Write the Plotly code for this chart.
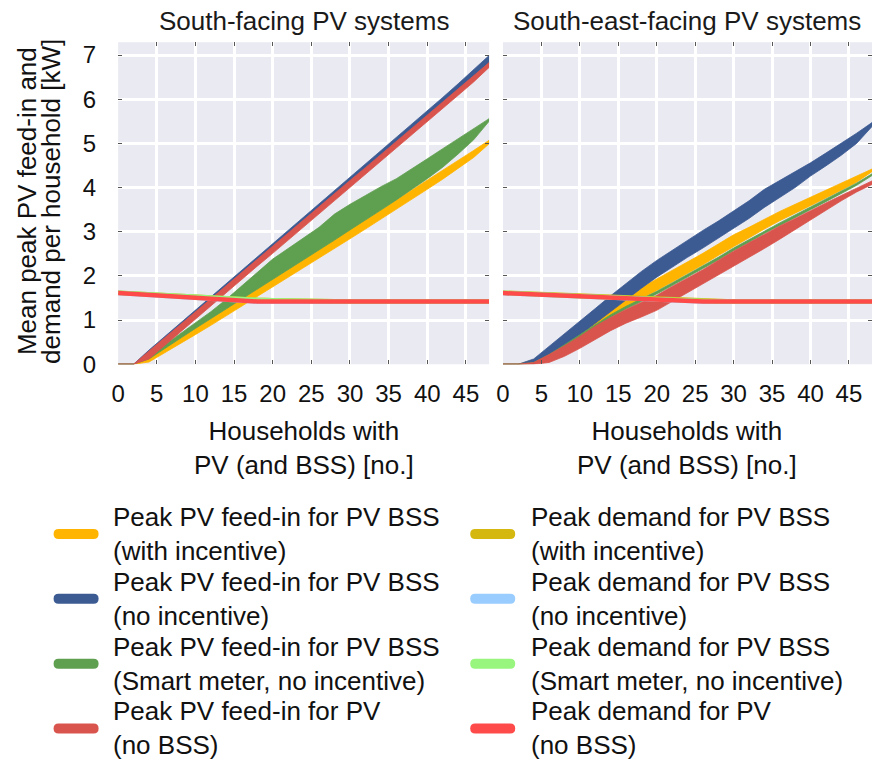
import plotly.graph_objects as go

# Households with PV (and BSS), sampled every two households
households = [0, 2, 4, 6, 8, 10, 12, 14, 16, 18, 20, 22, 24,
              26, 28, 30, 32, 34, 36, 38, 40, 42, 44, 46, 48]

series_names = [
    "Peak PV feed-in for PV BSS<br>(with incentive)",
    "Peak PV feed-in for PV BSS<br>(no incentive)",
    "Peak PV feed-in for PV BSS<br>(Smart meter, no incentive)",
    "Peak PV feed-in for PV<br>(no BSS)",
]
demand_names = [
    "Peak demand for PV BSS<br>(with incentive)",
    "Peak demand for PV BSS<br>(no incentive)",
    "Peak demand for PV BSS<br>(Smart meter, no incentive)",
    "Peak demand for PV<br>(no BSS)",
]
feed_colors = ["#FFB400", "#3C5B93", "#5F9F50", "#D9544D"]
demand_colors = ["#D4B70F", "#99CCFF", "#98F57E", "#FF4A4A"]

# ---- South-facing PV systems: peak feed-in bands (upper / lower) [kW] ----
s_inc_hi = [0, 0, 0.15, 0.37, 0.60, 0.82, 1.04, 1.26, 1.49, 1.71, 1.93, 2.15, 2.38,
            2.60, 2.82, 3.05, 3.27, 3.49, 3.72, 3.94, 4.16, 4.39, 4.61, 4.84, 5.07]
s_inc_lo = [0, 0, 0.05, 0.25, 0.46, 0.67, 0.88, 1.10, 1.32, 1.53, 1.75, 1.97, 2.19,
            2.40, 2.62, 2.84, 3.06, 3.28, 3.50, 3.73, 3.96, 4.19, 4.43, 4.68, 4.99]
s_noinc_hi = [0, 0, 0.32, 0.62, 0.92, 1.22, 1.52, 1.82, 2.12, 2.42, 2.72, 3.02, 3.32,
              3.62, 3.92, 4.22, 4.52, 4.82, 5.12, 5.42, 5.72, 6.04, 6.35, 6.67, 6.99]
s_noinc_lo = [0, 0, 0.27, 0.56, 0.86, 1.16, 1.45, 1.75, 2.05, 2.34, 2.64, 2.94, 3.24,
              3.53, 3.83, 4.13, 4.42, 4.72, 5.02, 5.31, 5.61, 5.91, 6.21, 6.50, 6.80]
s_smart_hi = [0, 0, 0.18, 0.43, 0.68, 0.93, 1.19, 1.47, 1.77, 2.06, 2.38, 2.62, 2.86,
              3.10, 3.40, 3.62, 3.82, 4.02, 4.20, 4.42, 4.65, 4.88, 5.10, 5.32, 5.56]
s_smart_lo = [0, 0, 0.12, 0.35, 0.58, 0.81, 1.03, 1.25, 1.48, 1.70, 1.92, 2.14, 2.37,
              2.59, 2.81, 3.04, 3.27, 3.49, 3.72, 3.95, 4.20, 4.46, 4.76, 5.08, 5.50]
s_pv_hi = [0, 0, 0.30, 0.59, 0.89, 1.19, 1.48, 1.78, 2.08, 2.37, 2.67, 2.97, 3.27,
           3.56, 3.86, 4.16, 4.45, 4.75, 5.05, 5.34, 5.64, 5.94, 6.24, 6.53, 6.83]
s_pv_lo = [0, 0, 0.12, 0.42, 0.72, 1.02, 1.32, 1.62, 1.92, 2.22, 2.51, 2.81, 3.11,
           3.40, 3.70, 4.00, 4.29, 4.59, 4.89, 5.19, 5.49, 5.79, 6.09, 6.39, 6.72]

# ---- South-facing PV systems: mean peak demand [kW] ----
s_dem_inc = [1.62, 1.60, 1.58, 1.56, 1.54, 1.52, 1.50, 1.485, 1.47, 1.46, 1.45, 1.44, 1.43,
             1.42, 1.42, 1.42, 1.42, 1.42, 1.42, 1.42, 1.42, 1.42, 1.42, 1.42, 1.42]
s_dem_noinc = [1.61, 1.59, 1.565, 1.54, 1.515, 1.49, 1.47, 1.45, 1.43, 1.42, 1.42, 1.42, 1.42,
               1.42, 1.42, 1.42, 1.42, 1.42, 1.42, 1.42, 1.42, 1.42, 1.42, 1.42, 1.42]
s_dem_smart = [1.62, 1.60, 1.58, 1.56, 1.54, 1.52, 1.505, 1.49, 1.475, 1.46, 1.45, 1.44, 1.43,
               1.425, 1.42, 1.42, 1.42, 1.42, 1.42, 1.42, 1.42, 1.42, 1.42, 1.42, 1.42]
s_dem_pv = [1.61, 1.59, 1.565, 1.54, 1.515, 1.49, 1.47, 1.45, 1.425, 1.42, 1.42, 1.42, 1.42,
            1.42, 1.42, 1.42, 1.42, 1.42, 1.42, 1.42, 1.42, 1.42, 1.42, 1.42, 1.42]

# ---- South-east-facing PV systems: peak feed-in bands (upper / lower) [kW] ----
se_inc_hi = [0, 0, 0.10, 0.35, 0.60, 0.85, 1.10, 1.32, 1.53, 1.73, 1.93, 2.12, 2.31,
             2.51, 2.72, 2.93, 3.10, 3.28, 3.46, 3.62, 3.78, 3.94, 4.10, 4.26, 4.42]
se_inc_lo = [0, 0, 0.02, 0.20, 0.42, 0.65, 0.88, 1.10, 1.30, 1.49, 1.67, 1.86, 2.05,
             2.25, 2.46, 2.67, 2.86, 3.06, 3.25, 3.42, 3.59, 3.76, 3.94, 4.12, 4.36]
se_noinc_hi = [0, 0, 0.12, 0.40, 0.70, 0.98, 1.26, 1.55, 1.83, 2.10, 2.35, 2.58, 2.81,
               3.03, 3.24, 3.46, 3.70, 3.96, 4.16, 4.36, 4.56, 4.78, 5.00, 5.23, 5.47]
se_noinc_lo = [0, 0, 0.02, 0.18, 0.42, 0.66, 0.92, 1.18, 1.45, 1.72, 1.97, 2.20, 2.42,
               2.63, 2.84, 3.07, 3.30, 3.55, 3.78, 4.00, 4.26, 4.49, 4.73, 5.00, 5.38]
se_smart_hi = [0, 0, 0.04, 0.22, 0.44, 0.67, 0.90, 1.12, 1.31, 1.48, 1.65, 1.84, 2.03,
               2.22, 2.42, 2.63, 2.82, 3.02, 3.20, 3.38, 3.56, 3.74, 3.92, 4.10, 4.31]
se_smart_lo = [0, 0, 0.01, 0.16, 0.38, 0.61, 0.84, 1.06, 1.25, 1.42, 1.59, 1.78, 1.97,
               2.16, 2.36, 2.57, 2.76, 2.96, 3.14, 3.32, 3.50, 3.68, 3.86, 4.05, 4.27]
se_pv_hi = [0, 0, 0.04, 0.22, 0.42, 0.63, 0.86, 1.06, 1.24, 1.40, 1.56, 1.76, 1.95,
            2.14, 2.35, 2.56, 2.75, 2.94, 3.13, 3.30, 3.48, 3.65, 3.82, 3.98, 4.15]
se_pv_lo = [0, 0, 0, 0.04, 0.18, 0.36, 0.56, 0.76, 0.93, 1.07, 1.22, 1.42, 1.62,
            1.82, 2.02, 2.22, 2.42, 2.62, 2.83, 3.05, 3.26, 3.48, 3.70, 3.90, 4.07]

# ---- South-east-facing PV systems: mean peak demand [kW] ----
se_dem_inc = [1.62, 1.605, 1.59, 1.575, 1.56, 1.545, 1.53, 1.515, 1.50, 1.485, 1.47, 1.455, 1.44,
              1.43, 1.42, 1.42, 1.42, 1.42, 1.42, 1.42, 1.42, 1.42, 1.42, 1.42, 1.42]
se_dem_noinc = [1.61, 1.595, 1.58, 1.565, 1.55, 1.53, 1.515, 1.50, 1.485, 1.47, 1.455, 1.44, 1.425,
                1.42, 1.42, 1.42, 1.42, 1.42, 1.42, 1.42, 1.42, 1.42, 1.42, 1.42, 1.42]
se_dem_smart = [1.62, 1.60, 1.585, 1.57, 1.555, 1.54, 1.525, 1.51, 1.495, 1.48, 1.46, 1.445, 1.43,
                1.42, 1.42, 1.42, 1.42, 1.42, 1.42, 1.42, 1.42, 1.42, 1.42, 1.42, 1.42]
se_dem_pv = [1.61, 1.595, 1.58, 1.565, 1.55, 1.53, 1.515, 1.50, 1.485, 1.47, 1.455, 1.44, 1.425,
             1.42, 1.42, 1.42, 1.42, 1.42, 1.42, 1.42, 1.42, 1.42, 1.42, 1.42, 1.42]

panel_titles = ["South-facing PV systems", "South-east-facing PV systems"]
x_title = "Households with<br>PV (and BSS) [no.]"
y_title_lines = ["Mean peak PV feed-in and", "demand per household [kW]"]
x_ticks = [0, 5, 10, 15, 20, 25, 30, 35, 40, 45]
y_ticks = [0, 1, 2, 3, 4, 5, 6, 7]

panels = [
    {"bands": [(s_inc_hi, s_inc_lo), (s_noinc_hi, s_noinc_lo),
               (s_smart_hi, s_smart_lo), (s_pv_hi, s_pv_lo)],
     "demand": [s_dem_inc, s_dem_noinc, s_dem_smart, s_dem_pv]},
    {"bands": [(se_inc_hi, se_inc_lo), (se_noinc_hi, se_noinc_lo),
               (se_smart_hi, se_smart_lo), (se_pv_hi, se_pv_lo)],
     "demand": [se_dem_inc, se_dem_noinc, se_dem_smart, se_dem_pv]},
]

FONT = "Liberation Sans, Arial, Helvetica, sans-serif"
W, H = 872, 765


def px(x):
    return x / W


def py(y):
    return (H - y) / H


fig = go.Figure()

for i, panel in enumerate(panels):
    xa = "x" if i == 0 else "x2"
    ya = "y" if i == 0 else "y2"
    for (hi, lo), color in zip(panel["bands"], feed_colors):
        fig.add_trace(go.Scatter(
            x=households + households[::-1], y=hi + lo[::-1],
            fill="toself", fillcolor=color, mode="lines",
            line=dict(color=color, width=0.8), hoverinfo="skip",
            showlegend=False, xaxis=xa, yaxis=ya))
    for dem, color in zip(panel["demand"], demand_colors):
        fig.add_trace(go.Scatter(
            x=households, y=dem, mode="lines",
            line=dict(color=color, width=4.5), hoverinfo="skip",
            showlegend=False, xaxis=xa, yaxis=ya))

axis_common = dict(
    showgrid=True, gridcolor="white", gridwidth=2.6,
    zeroline=False, showline=False,
    ticks="inside", ticklen=4, tickwidth=1, tickcolor="#555555",
    mirror="ticks",
    tickfont=dict(family=FONT, size=24, color="#111111"),
)

y_top = 42
y_bot = 370
ydom = [py(y_bot), py(y_top)]

fig.update_layout(
    width=W, height=H,
    margin=dict(l=0, r=0, t=0, b=0),
    paper_bgcolor="white", plot_bgcolor="#EAEAF2",
    xaxis=dict(domain=[px(112), px(486)], range=[0, 48], tickvals=x_ticks,
               ticklabelstandoff=13, anchor="y", **axis_common),
    xaxis2=dict(domain=[px(500), 1.0], range=[0, 48], tickvals=x_ticks,
                ticklabelstandoff=13, anchor="y2", **axis_common),
    yaxis=dict(domain=ydom, range=[0, 7.29], tickvals=y_ticks,
               ticklabelstandoff=21, anchor="x", **axis_common),
    yaxis2=dict(domain=ydom, range=[0, 7.29], tickvals=y_ticks,
                showticklabels=False, anchor="x2", **axis_common),
    showlegend=False,
)

annotations = []
# panel titles
for cx, title in zip([299, 686], panel_titles):
    annotations.append(dict(x=px(cx), y=py(20), xref="paper", yref="paper",
                            text=title, showarrow=False, xanchor="center",
                            yanchor="middle",
                            font=dict(family=FONT, size=26, color="#1a1a1a")))
# x-axis titles
for cx in [299, 686]:
    annotations.append(dict(x=px(cx), y=py(455), xref="paper", yref="paper",
                            text=x_title, showarrow=False, xanchor="center",
                            yanchor="middle",
                            font=dict(family=FONT, size=26, color="#111111")))
# y-axis title (two tightly spaced lines)
for cx, line in zip([20, 45], y_title_lines):
    annotations.append(dict(x=px(cx), y=py(204), xref="paper", yref="paper",
                            text=line, showarrow=False, textangle=-90,
                            xanchor="center", yanchor="middle",
                            font=dict(family=FONT, size=26, color="#111111")))

# legend: two columns, feed-in entries left, demand entries right
shapes = []
row_y = [543, 609, 675, 741]
cols = [(47, 105, series_names, feed_colors), (467, 526, demand_names, demand_colors)]
sym_path = "M0,5 L35,5 Q40,5 40,0 Q40,-5 35,-5 L0,-5 Q-5,-5 -5,0 Q-5,5 0,5 Z"
for sx, tx, names, colors in cols:
    for ry, name, color in zip(row_y, names, colors):
        shapes.append(dict(type="path", xref="paper", yref="paper",
                           xsizemode="pixel", ysizemode="pixel",
                           xanchor=px(sx + 5), yanchor=py(ry),
                           path=sym_path, fillcolor=color,
                           line=dict(width=0)))
        annotations.append(dict(x=px(tx), y=py(ry), xref="paper", yref="paper",
                                text=name, showarrow=False, xanchor="left",
                                yanchor="middle", align="left",
                                font=dict(family=FONT, size=26, color="#111111")))

fig.update_layout(annotations=annotations, shapes=shapes)

fig.write_html("out.html")
